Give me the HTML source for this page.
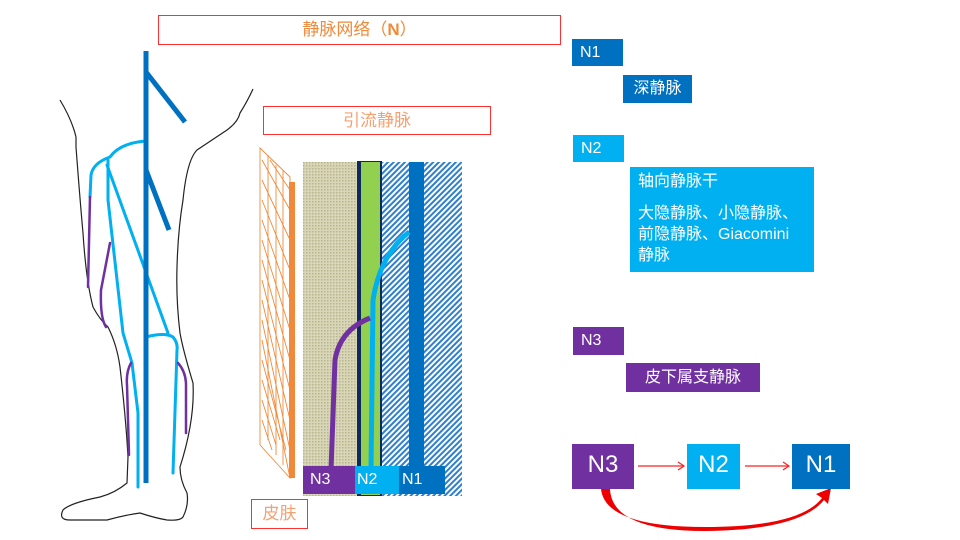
<!DOCTYPE html>
<html><head><meta charset="utf-8"><style>
html,body{margin:0;padding:0;background:#fff;}
body{width:960px;height:540px;overflow:hidden;position:relative;font-family:"Liberation Sans","Noto Sans CJK SC",sans-serif;}
.b{position:absolute;box-sizing:border-box;color:#fff;}
</style></head><body>
<svg width="960" height="540" style="position:absolute;left:0;top:0" xmlns="http://www.w3.org/2000/svg">
<defs>
<pattern id="dots" width="3" height="3" patternUnits="userSpaceOnUse"><rect width="3" height="3" fill="#d9d6b8"/><rect width="1.5" height="1.5" fill="#b8b48e"/></pattern>
<pattern id="hatch" width="4" height="4" patternUnits="userSpaceOnUse" patternTransform="rotate(45)"><rect width="4" height="4" fill="#fff"/><rect width="2" height="4" fill="#2f7fcf"/></pattern>
</defs>
<!-- leg outline -->
<path d="M60,100 Q72,120 76,137 L76,147 Q80,200 83,233 Q86,280 93,307 Q100,320 108,327 Q117,345 120,367 Q126,420 128,457 L127,483 Q115,493 100,497 Q70,503 63,510 Q58,520 70,520 L107,520 Q125,515 140,513 Q155,518 167,520 Q180,521 183,517 Q189,505 187,493 Q180,480 180,467 Q195,420 193,383 Q183,350 180,333 Q176,300 177,267 Q178,230 183,200 Q187,160 197,150 Q215,138 227,130 Q238,122 240,113 Q247,102 253,89" fill="none" stroke="#222" stroke-width="1.2" stroke-linejoin="round"/>
<!-- light blue -->
<g fill="none" stroke="#00b0f0" stroke-width="3" stroke-linecap="round">
<path d="M146,141 Q120,143 110,157 Q93,163 91,175 L90,197"/>
<path d="M108,160 L108,200 L123,333 L132,363 L138,413 L138,487"/>
<path d="M107,165 L168,333"/>
<path d="M146,337 Q165,332 173,337 Q178,343 177,350 L173,473"/>
</g>
<g fill="none" stroke="#7030a0" stroke-width="2.5" stroke-linecap="round">
<path d="M90,197 L88,287"/>
<path d="M110,243 L101,290 Q100,318 106,327"/>
<path d="M131,363 Q126,372 127,385 L129,455"/>
<path d="M178,363 Q186,372 186,385 L186,433"/>
</g>
<!-- deep vein -->
<g stroke="#0070c0" stroke-width="5">
<line x1="146" y1="51" x2="146" y2="483"/>
<line x1="146" y1="72" x2="185" y2="122"/>
<line x1="146" y1="170" x2="169" y2="230"/>
</g>
<!-- skin panel -->
<g stroke="#f08a3a" stroke-width="0.9" fill="none">
<path d="M260,148 L290,177 L290,478 L260,445 Z"/>
<path d="M262,160 L290,210 M262,180 L290,240 M262,200 L290,270 M262,220 L290,300 M262,240 L290,330 M262,260 L290,360 M262,280 L290,390 M262,300 L290,420 M262,320 L290,450 M262,340 L290,478 M262,360 L286,450 M262,380 L280,440 M262,400 L276,445 M262,420 L272,450 M270,160 L290,190"/>
<path d="M268,155 L268,440 M276,165 L276,455 M283,170 L283,465"/>
</g>
<rect x="289" y="182" width="6" height="296" fill="#f08a3a"/>
<!-- layers -->
<rect x="303" y="162" width="55" height="334" fill="url(#dots)"/>
<rect x="382" y="162" width="80" height="334" fill="url(#hatch)"/>
<rect x="357" y="161" width="25" height="335" fill="#0e2a5c"/>
<rect x="361" y="162" width="19" height="333" fill="#92d050"/>
<rect x="409" y="162" width="15" height="305" fill="#0070c0"/>
<path d="M409,232 Q380,255 373,300 L371,470" fill="none" stroke="#00b0f0" stroke-width="5"/>
<path d="M370,318 Q340,330 335,360 L331,470" fill="none" stroke="#7030a0" stroke-width="5"/>
<!-- bottom arrows -->
<g stroke="#ff2020" stroke-width="1.2" fill="none">
<line x1="638" y1="466" x2="684" y2="466"/><path d="M678,462 L684,466 L678,470"/>
<line x1="745" y1="466" x2="789" y2="466"/><path d="M783,462 L789,466 L783,470"/>
</g>
<path d="M601,489 Q605,527 705,527 Q800,527 822,498 L816,494 L831,488 L828,504 L824,500 Q800,530 705,531 Q612,531 610,489 Z" fill="#ee0000"/>
</svg>
<div class="b" style="left:158px;top:15px;width:403px;height:30px;border:1px solid #ff3030;color:#f08a3a;font-size:17px;text-align:center;line-height:28px;">静脉网络（<b>N</b>）</div>
<div class="b" style="left:263px;top:106px;width:228px;height:29px;border:1px solid #ff3030;color:#f4a070;font-size:17px;text-align:center;line-height:27px;">引流静脉</div>
<div class="b" style="left:251px;top:499px;width:57px;height:30px;border:1px solid #ff3030;color:#f4a070;font-size:17px;text-align:center;line-height:28px;">皮肤</div>
<div class="b" style="left:303px;top:466px;width:53px;height:28px;background:#7030a0;font-size:16px;padding-left:7px;line-height:28px;">N3</div>
<div class="b" style="left:355px;top:466px;width:45px;height:28px;background:#00b0f0;font-size:16px;padding-left:2px;line-height:28px;">N2</div>
<div class="b" style="left:399px;top:466px;width:46px;height:28px;background:#0070c0;font-size:16px;padding-left:3px;line-height:28px;">N1</div>
<div class="b" style="left:572px;top:39px;width:51px;height:27px;background:#0070c0;font-size:16px;padding-left:8px;line-height:27px;">N1</div>
<div class="b" style="left:623px;top:75px;width:69px;height:28px;background:#0070c0;font-size:16px;text-align:center;line-height:28px;">深静脉</div>
<div class="b" style="left:573px;top:135px;width:51px;height:27px;background:#00b0f0;font-size:16px;padding-left:8px;line-height:27px;">N2</div>
<div class="b" style="left:630px;top:167px;width:184px;height:105px;background:#00b0f0;font-size:16px;padding:4px 0 0 8px;line-height:21px;white-space:nowrap;">轴向静脉干<div style="margin-top:11px">大隐静脉、小隐静脉、<br>前隐静脉、Giacomini<br>静脉</div></div>
<div class="b" style="left:573px;top:327px;width:51px;height:28px;background:#7030a0;font-size:16px;padding-left:8px;line-height:28px;">N3</div>
<div class="b" style="left:626px;top:363px;width:134px;height:29px;background:#7030a0;font-size:16px;text-align:center;line-height:29px;">皮下属支静脉</div>
<div class="b" style="left:572px;top:444px;width:62px;height:45px;background:#7030a0;font-size:24px;text-align:center;line-height:42px;">N3</div>
<div class="b" style="left:687px;top:444px;width:53px;height:45px;background:#00b0f0;font-size:24px;text-align:center;line-height:42px;">N2</div>
<div class="b" style="left:792px;top:444px;width:58px;height:45px;background:#0070c0;font-size:24px;text-align:center;line-height:42px;">N1</div>
</body></html>
